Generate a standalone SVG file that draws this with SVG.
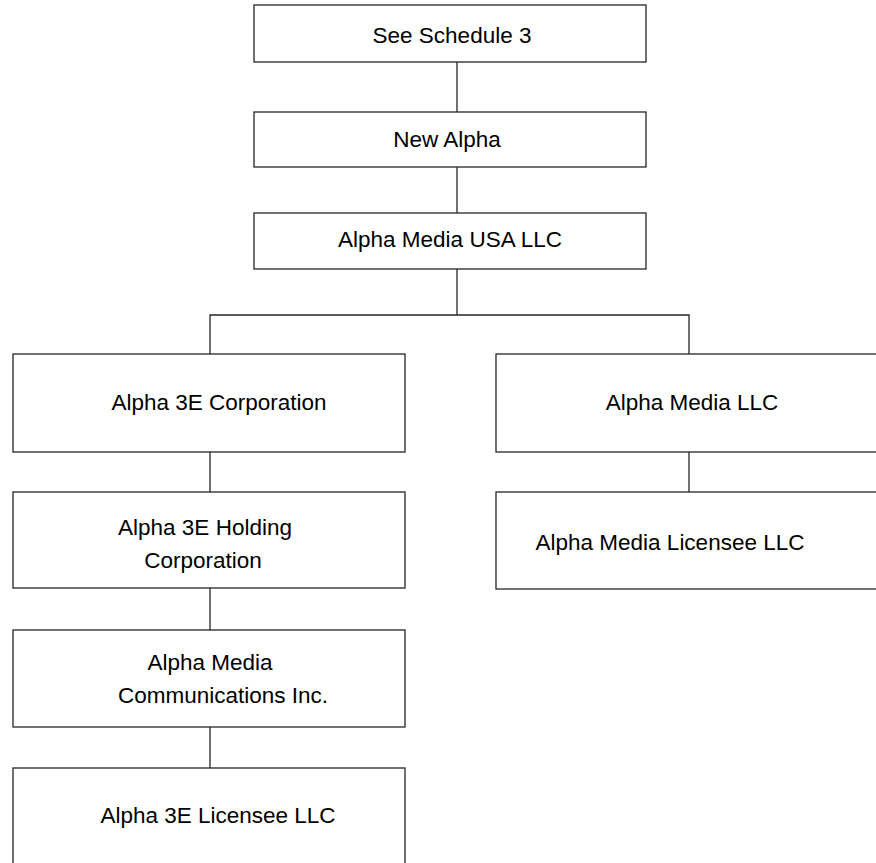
<svg xmlns="http://www.w3.org/2000/svg" width="876" height="863" viewBox="0 0 876 863">
<style>
.box{fill:#fff;stroke:#262626;stroke-width:1.3}
.ln{fill:none;stroke:#262626;stroke-width:1.3}
text{font-family:"Liberation Sans",Arial,sans-serif;font-size:22.5px;fill:#000;text-anchor:middle}
</style>
<rect width="876" height="863" fill="#fff"/>
<g id="connectors">
<line class="ln" x1="457" y1="62" x2="457" y2="112"/>
<line class="ln" x1="457" y1="167" x2="457" y2="213"/>
<polyline class="ln" points="457,269 457,315"/>
<polyline class="ln" points="210,354 210,315 689,315 689,354"/>
<line class="ln" x1="210" y1="452" x2="210" y2="492"/>
<line class="ln" x1="210" y1="588" x2="210" y2="630"/>
<line class="ln" x1="210" y1="727" x2="210" y2="768"/>
<line class="ln" x1="689" y1="452" x2="689" y2="492"/>
</g>
<g id="schedule3"><rect class="box" x="254" y="5" width="392" height="57"/><text x="452" y="43">See Schedule 3</text></g>
<g id="newalpha"><rect class="box" x="254" y="112" width="392" height="55"/><text x="447" y="147">New Alpha</text></g>
<g id="usa"><rect class="box" x="254" y="213" width="392" height="56"/><text x="450" y="247">Alpha Media USA LLC</text></g>
<g id="a3ecorp"><rect class="box" x="13" y="354" width="392" height="98"/><text x="219" y="410">Alpha 3E Corporation</text></g>
<g id="a3eholding"><rect class="box" x="13" y="492" width="392" height="96"/><text x="205" y="535">Alpha 3E Holding</text><text x="203" y="568">Corporation</text></g>
<g id="amcomm"><rect class="box" x="13" y="630" width="392" height="97"/><text x="210" y="670">Alpha Media</text><text x="223" y="703">Communications Inc.</text></g>
<g id="a3elicensee"><rect class="box" x="13" y="768" width="392" height="120"/><text x="218" y="823">Alpha 3E Licensee LLC</text></g>
<g id="amllc"><rect class="box" x="496" y="354" width="400" height="98"/><text x="692" y="410">Alpha Media LLC</text></g>
<g id="amlicensee"><rect class="box" x="496" y="492" width="400" height="97"/><text x="670" y="550">Alpha Media Licensee LLC</text></g>
</svg>
